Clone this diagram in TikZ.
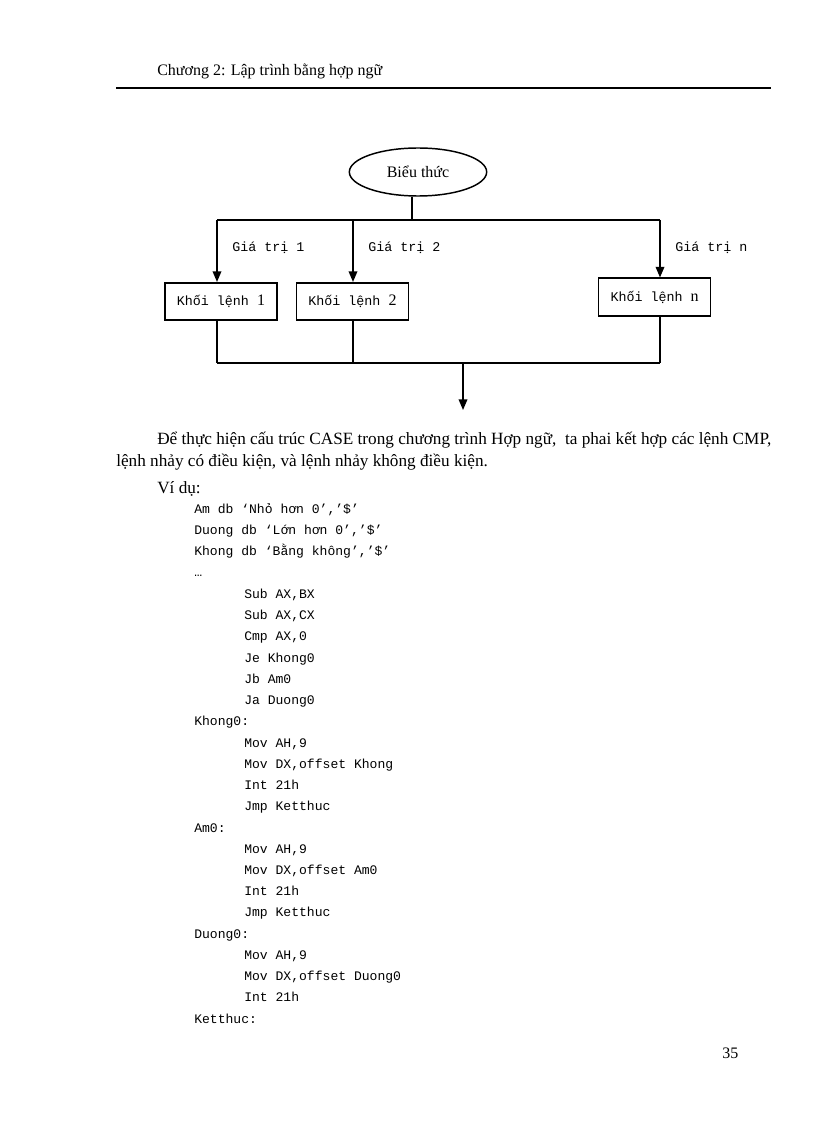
\documentclass[tikz,border=0pt]{standalone}
\usepackage{fontspec}
\setmainfont{Liberation Serif}
\setmonofont{Liberation Mono}
\usetikzlibrary{shapes.geometric,arrows.meta}
\begin{document}
\begin{tikzpicture}[x=0.75pt,y=-0.75pt,
  line/.style={draw,line width=1.1pt},
  arr/.style={line,-{Triangle[length=8pt,width=6.5pt]}},
  blk/.style={draw,line width=1.3pt,minimum width=84pt,minimum height=28pt,inner sep=0pt,font=\fontsize{10}{12}\selectfont\ttfamily},
  lbl/.style={anchor=base west,inner sep=0pt,font=\fontsize{10}{12}\selectfont\ttfamily},
  code/.style={anchor=base west,inner sep=0pt,font=\fontsize{9.8}{12}\selectfont\ttfamily},
  txt/.style={anchor=base west,inner sep=0pt,font=\fontsize{12}{15}\selectfont},
  ptxt/.style={anchor=base west,inner sep=0pt,font=\fontsize{12.9}{15}\selectfont}]
\useasboundingbox (0,0) rectangle (816,1123);
\node[txt] (hdr) at (157,76) {Chương 2: Lập trình bằng hợp ngữ};
\draw[line width=0.8pt] (116,88) -- (771,88);
% diagram
\node[draw,line width=1.1pt,ellipse,minimum width=103pt,minimum height=36pt,inner sep=0pt,font=\fontsize{12}{14}\selectfont] (e) at (418,172) {Biểu thức};
\coordinate (t0) at (412,220);
\coordinate (tl) at (217,220);
\coordinate (tm) at (353,220);
\coordinate (tr) at (660,220);
\node[blk] (b1) at (221,301.5) {Khối lệnh \fontsize{12}{12}\rmfamily 1};
\node[blk] (b2) at (352.5,301.5) {Khối lệnh \fontsize{12}{12}\rmfamily 2};
\node[blk] (bn) at (654.5,297) {Khối lệnh \fontsize{12}{12}\rmfamily n};
\draw[line] (e.south -| t0) -- (t0);
\draw[line] (tl) -- (tr);
\draw[arr] (tl) -- (tl |- b1.north);
\draw[arr] (tm) -- (tm |- b2.north);
\draw[arr] (tr) -- (tr |- bn.north);
\node[lbl] (g1) at (232,251) {Giá trị 1};
\node[lbl] (g2) at (368,251) {Giá trị 2};
\node[lbl] (gn) at (675,251) {Giá trị n};
\coordinate (bl) at (217,363);
\coordinate (bm) at (353,363);
\coordinate (br) at (660,363);
\coordinate (bo) at (463,363);
\coordinate (end) at (463,410);
\draw[line] (tl |- b1.south) -- (bl);
\draw[line] (tm |- b2.south) -- (bm);
\draw[line] (tr |- bn.south) -- (br);
\draw[line] (bl) -- (br);
\draw[arr] (bo) -- (end);
% text
\node[ptxt] (p1) at (157,444) {Để thực hiện cấu trúc CASE trong chương trình Hợp ngữ,\ \ ta phai kết hợp các lệnh CMP,};
\node[ptxt] (p2) at (116,466) {lệnh nhảy có điều kiện, và lệnh nhảy không điều kiện.};
\node[ptxt] (vd) at (157,493) {Ví dụ:};
\foreach \y/\x/\s in {
 513/194/{Am db ‘Nhỏ hơn 0’,’\$’},
 534/194/{Duong db ‘Lớn hơn 0’,’\$’},
 555/194/{Khong db ‘Bằng không’,’\$’},
 576/194/{…},
 598/244/{Sub AX,BX},
 619/244/{Sub AX,CX},
 640/244/{Cmp AX,0},
 662/244/{Je Khong0},
 683/244/{Jb Am0},
 704/244/{Ja Duong0},
 725/194/{Khong0:},
 747/244/{Mov AH,9},
 768/244/{Mov DX,offset Khong},
 789/244/{Int 21h},
 810/244/{Jmp Ketthuc},
 832/194/{Am0:},
 853/244/{Mov AH,9},
 874/244/{Mov DX,offset Am0},
 895/244/{Int 21h},
 916/244/{Jmp Ketthuc},
 938/194/{Duong0:},
 959/244/{Mov AH,9},
 980/244/{Mov DX,offset Duong0},
 1001/244/{Int 21h},
 1023/194/{Ketthuc:}}
 \node[code] at (\x,\y) {\s};
\node[txt] (pg) at (722,1058) {35};
\end{tikzpicture}
\end{document}
